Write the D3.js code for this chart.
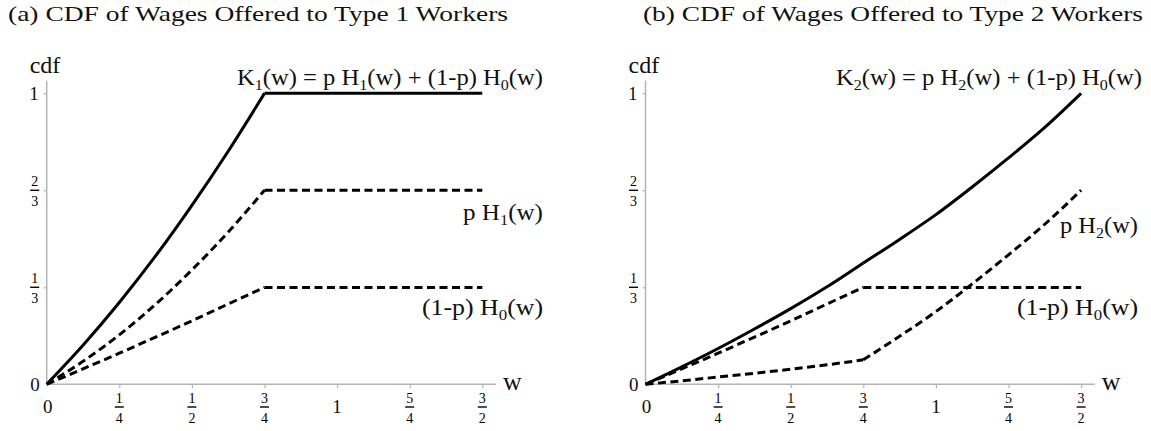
<!DOCTYPE html>
<html>
<head>
<meta charset="utf-8">
<script src="https://cdn.jsdelivr.net/npm/d3@7"></script>
<style>
  html, body { margin: 0; padding: 0; background: #fff; }
  svg { display: block; }
</style>
</head>
<body>
<svg id="chart" width="1151" height="431"></svg>
<script>
// ---------------- DATA ----------------
const wGrid = [0, 0.125, 0.25, 0.375, 0.5, 0.625, 0.75, 0.875, 1, 1.125, 1.25, 1.375, 1.5];
const kinkW = 0.75;

// Panel (a)
const K1  = [0, 0.134, 0.281, 0.441, 0.615, 0.801, 1.000, 1.000, 1.000, 1.000, 1.000, 1.000, 1.000];
const pH1 = [0, 0.079, 0.170, 0.275, 0.393, 0.523, 0.667, 0.667, 0.667, 0.667, 0.667, 0.667, 0.667];
const H0a = [0, 0.053, 0.107, 0.162, 0.218, 0.276, 0.333, 0.333, 0.333, 0.333, 0.333, 0.333, 0.333];

// Panel (b)
const K2  = [0, 0.060, 0.123, 0.190, 0.260, 0.335, 0.417, 0.498, 0.583, 0.678, 0.778, 0.883, 1.000];
const pH2 = [0, 0.012, 0.025, 0.038, 0.052, 0.067, 0.084, 0.165, 0.250, 0.345, 0.445, 0.550, 0.667];
const H0b = [0, 0.053, 0.107, 0.162, 0.218, 0.276, 0.333, 0.333, 0.333, 0.333, 0.333, 0.333, 0.333];

const xTickVals   = [0.25, 0.5, 0.75, 1, 1.25, 1.5];
const xTickLabels = ["1/4", "1/2", "3/4", "1", "5/4", "3/2"];
const yTickVals   = [1/3, 2/3, 1];
const yTickLabels = ["1/3", "2/3", "1"];

const titles = ["(a) CDF of Wages Offered to Type 1 Workers", "(b) CDF of Wages Offered to Type 2 Workers"];

// formula labels as [text, isSubscript] pieces
const labelsA = [
  {parts: [["K",0],["1",1],["(w) = p H",0],["1",1],["(w) + (1-p) H",0],["0",1],["(w)",0]], key: "K"},
  {parts: [["p H",0],["1",1],["(w)",0]], key: "pH"},
  {parts: [["(1-p) H",0],["0",1],["(w)",0]], key: "H0"}
];
const labelsB = [
  {parts: [["K",0],["2",1],["(w) = p H",0],["2",1],["(w) + (1-p) H",0],["0",1],["(w)",0]], key: "K"},
  {parts: [["p H",0],["2",1],["(w)",0]], key: "pH"},
  {parts: [["(1-p) H",0],["0",1],["(w)",0]], key: "H0"}
];

// ---------------- LAYOUT ----------------
const svg = d3.select("#chart");
const serif = "'Liberation Serif', 'Times New Roman', serif";

const panels = [
  { x0: 46.7, title: titles[0], titleX: 8, titleLen: 500,
    series: [{v: K1, dash: null}, {v: pH1, dash: "8,4.5"}, {v: H0a, dash: "8,4.5"}],
    labels: labelsA,
    labelPos: { K: {x: 543, y: 85, len: 306}, pH: {x: 543, y: 220, len: 80}, H0: {x: 543, y: 315, len: 121} } },
  { x0: 645.5, title: titles[1], titleX: 643, titleLen: 500,
    series: [{v: K2, dash: null}, {v: pH2, dash: "8,4.5"}, {v: H0b, dash: "8,4.5"}],
    labels: labelsB,
    labelPos: { K: {x: 1142, y: 85, len: 306}, pH: {x: 1138, y: 233, len: 78}, H0: {x: 1138, y: 315, len: 121} } }
];

const axisColor = "#b4b4b4";

panels.forEach(p => {
  const x = d3.scaleLinear().domain([0, 1.5]).range([p.x0, p.x0 + 435.6]);
  const y = d3.scaleLinear().domain([0, 1]).range([384.3, 93.3]);
  const g = svg.append("g");

  // title
  g.append("text").attr("x", p.titleX).attr("y", 21)
    .attr("font-family", serif).attr("font-size", 22)
    .attr("textLength", p.titleLen).attr("lengthAdjust", "spacingAndGlyphs")
    .attr("fill", "#111").text(p.title);

  // axes lines
  g.append("line").attr("x1", x(0)).attr("x2", x(1.547)).attr("y1", y(0)).attr("y2", y(0))
    .attr("stroke", axisColor).attr("stroke-width", 1.5);
  g.append("line").attr("x1", x(0)).attr("x2", x(0)).attr("y1", y(0)).attr("y2", y(1.043))
    .attr("stroke", axisColor).attr("stroke-width", 1.5);

  // ticks via d3 axes
  const xa = g.append("g").attr("transform", `translate(0,${y(0)})`)
    .call(d3.axisBottom(x).tickValues(xTickVals).tickSize(4).tickFormat(""));
  xa.select(".domain").remove();
  xa.selectAll(".tick line").attr("stroke", axisColor).attr("stroke-width", 1.2);
  const ya = g.append("g").attr("transform", `translate(${x(0)},0)`)
    .call(d3.axisLeft(y).tickValues(yTickVals).tickSize(3).tickFormat(""));
  ya.select(".domain").remove();
  ya.selectAll(".tick line").attr("stroke", axisColor).attr("stroke-width", 1.2);

  // fraction drawer
  function frac(cx, cy, label) {
    const [n, d] = label.split("/");
    g.append("text").attr("x", cx).attr("y", cy - 4.5).attr("text-anchor", "middle")
      .attr("font-family", serif).attr("font-size", 14).attr("fill", "#000").text(n);
    g.append("line").attr("x1", cx - 4.5).attr("x2", cx + 4.5).attr("y1", cy).attr("y2", cy)
      .attr("stroke", "#000").attr("stroke-width", 1.4);
    g.append("text").attr("x", cx).attr("y", cy + 16).attr("text-anchor", "middle")
      .attr("font-family", serif).attr("font-size", 14).attr("fill", "#000").text(d);
  }

  // x tick labels
  g.append("text").attr("x", x(0) + 1).attr("y", 413).attr("text-anchor", "middle")
    .attr("font-family", serif).attr("font-size", 19).attr("fill", "#111").text("0");
  xTickVals.forEach((v, i) => {
    const lab = xTickLabels[i];
    if (lab.includes("/")) frac(x(v), 407, lab);
    else g.append("text").attr("x", x(v)).attr("y", 413).attr("text-anchor", "middle")
      .attr("font-family", serif).attr("font-size", 19).attr("fill", "#111").text(lab);
  });
  // y tick labels
  g.append("text").attr("x", x(0) - 7).attr("y", y(0) + 7).attr("text-anchor", "end")
    .attr("font-family", serif).attr("font-size", 19).attr("fill", "#111").text("0");
  yTickVals.forEach((v, i) => {
    const lab = yTickLabels[i];
    if (lab.includes("/")) frac(x(0) - 12, y(v), lab);
    else g.append("text").attr("x", x(0) - 8).attr("y", y(v) + 7).attr("text-anchor", "end")
      .attr("font-family", serif).attr("font-size", 19).attr("fill", "#111").text(lab);
  });

  // axis titles
  g.append("text").attr("x", x(0) - 17).attr("y", 73).attr("font-family", serif)
    .attr("font-size", 24).attr("fill", "#111").text("cdf");
  g.append("text").attr("x", x(1.547) + 7).attr("y", 390).attr("font-family", serif)
    .attr("font-size", 26).attr("fill", "#111").text("w");

  // curves, split at kink
  const line = d3.line().x(d => x(d[0])).y(d => y(d[1])).curve(d3.curveMonotoneX);
  p.series.forEach(s => {
    const pts = wGrid.map((w, i) => [w, s.v[i]]);
    const seg1 = pts.filter(d => d[0] <= kinkW);
    const seg2 = pts.filter(d => d[0] >= kinkW);
    [seg1, seg2].forEach(seg => {
      g.append("path").attr("d", line(seg)).attr("fill", "none")
        .attr("stroke", "#000").attr("stroke-width", 3)
        .attr("stroke-dasharray", s.dash);
    });
  });

  // formula labels
  p.labels.forEach(l => {
    const pos = p.labelPos[l.key];
    const t = g.append("text").attr("x", pos.x).attr("y", pos.y).attr("text-anchor", "end")
      .attr("font-family", serif).attr("font-size", 23).attr("fill", "#111")
      .attr("textLength", pos.len).attr("lengthAdjust", "spacingAndGlyphs");
    let sub = false;
    l.parts.forEach(([txt, isSub]) => {
      const ts = t.append("tspan").text(txt);
      if (isSub && !sub) { ts.attr("dy", 5).attr("font-size", 15); sub = true; }
      else if (!isSub && sub) { ts.attr("dy", -5); sub = false; }
    });
  });
});
</script>
</body>
</html>
